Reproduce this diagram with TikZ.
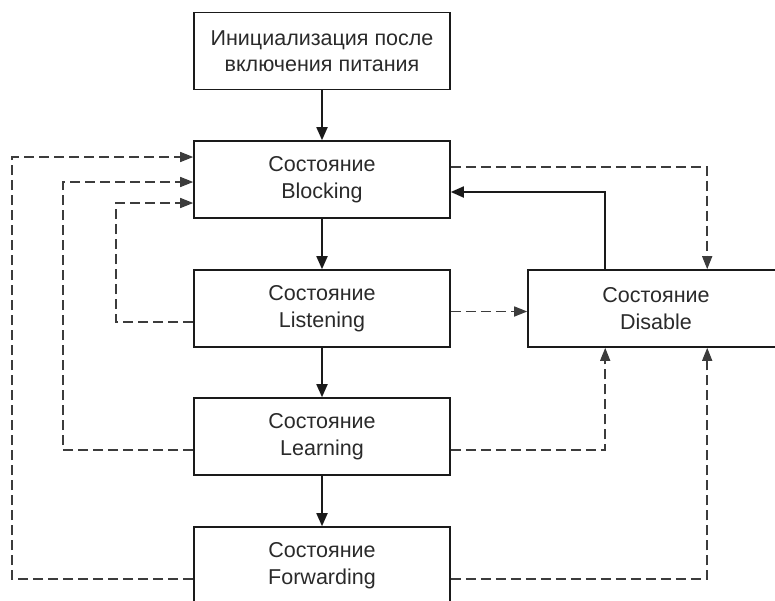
\documentclass[tikz,border=0pt]{standalone}
\usepackage{fontspec}
\setmainfont{Liberation Sans}
\usetikzlibrary{arrows.meta}
\definecolor{ink}{HTML}{1A1A1A}
\definecolor{txt}{HTML}{2A2A2A}
\tikzset{
  statebox/.style={draw=ink, line width=1.6pt, rectangle, minimum width=256pt, minimum height=77pt,
    align=center, inner sep=0pt, text=txt, font=\fontsize{21.5}{26.5}\selectfont},
  solidarrow/.style={draw=ink, line width=1.8pt, -{Triangle[length=13pt,width=11pt]}},
  dasharrow/.style={draw=ink!85, line width=1.5pt, dash pattern=on 10pt off 5pt, -{Triangle[length=13pt,width=10pt]}}
}
\begin{document}
\begin{tikzpicture}[x=1pt,y=-1pt]
\useasboundingbox (0,0) rectangle (775,600);
\node[statebox] (init) at (322,51) {Инициализация после\\включения питания};
\node[statebox] (blocking) at (322,179.5) {Состояние\\Blocking};
\node[statebox] (listening) at (322,308.5) {Состояние\\Listening};
\node[statebox] (learning) at (322,436.5) {Состояние\\Learning};
\node[statebox] (forwarding) at (322,565.5) {Состояние\\Forwarding};
\node[statebox] (disable) at (656,308.5) {Состояние\\Disable};

\draw[solidarrow] (init.south) -- (blocking.north);
\draw[solidarrow] (blocking.south) -- (listening.north);
\draw[solidarrow] (listening.south) -- (learning.north);
\draw[solidarrow] (learning.south) -- (forwarding.north);
\draw[solidarrow] ([xshift=78pt]disable.north west) |- ([yshift=-12.5pt]blocking.east);

\draw[dasharrow] ([yshift=12.5pt]blocking.east) -| ([xshift=180pt]disable.north west);
\draw[dasharrow] ([yshift=-3pt]listening.east) -- ([yshift=-3pt]disable.west);
\draw[dasharrow] ([yshift=-13.5pt]learning.east) -| ([xshift=78pt]disable.south west);
\draw[dasharrow] ([yshift=-13.5pt]forwarding.east) -| ([xshift=180pt]disable.south west);

\draw[dasharrow] ([yshift=-13.5pt]listening.west) -- ++(-77,0) |- ([yshift=-23.5pt]blocking.west);
\draw[dasharrow] ([yshift=-13.5pt]learning.west) -- ++(-130,0) |- ([yshift=-2.5pt]blocking.west);
\draw[dasharrow] ([yshift=-13.5pt]forwarding.west) -- ++(-181,0) |- ([yshift=22.5pt]blocking.west);
\end{tikzpicture}
\end{document}
